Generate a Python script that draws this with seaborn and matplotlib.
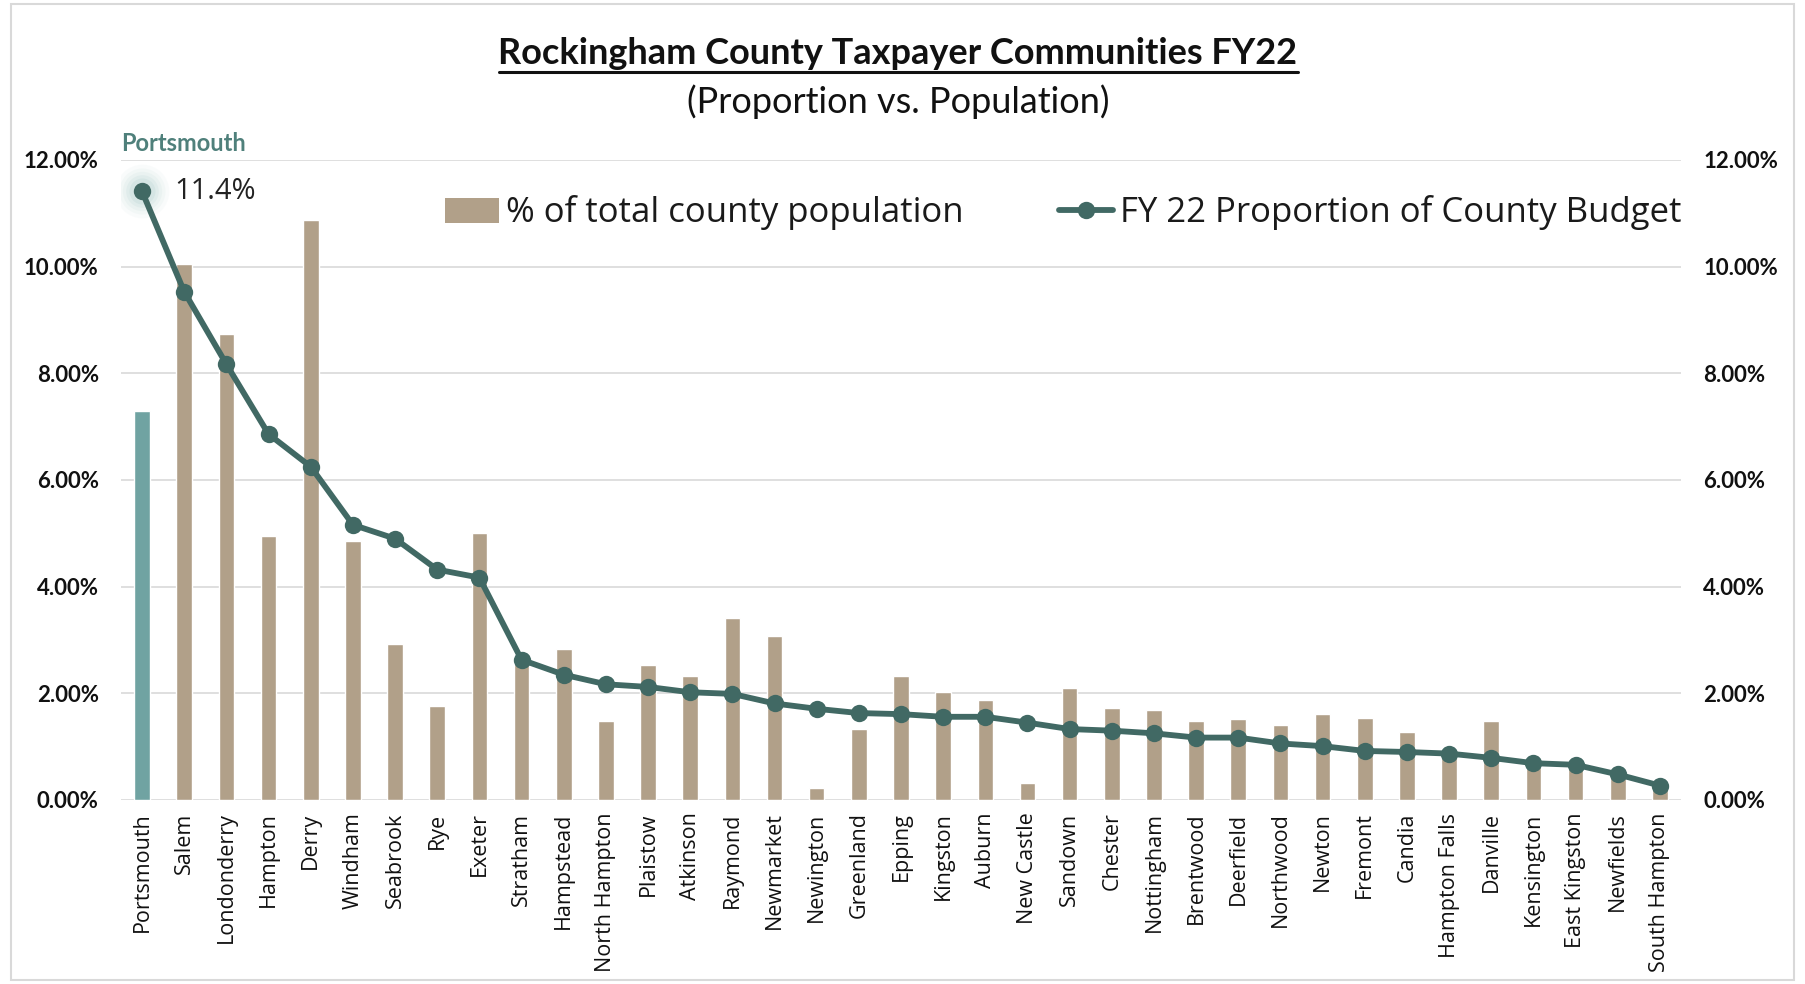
import numpy as np
import pandas as pd
import matplotlib
matplotlib.use("Agg")
import matplotlib.pyplot as plt
import seaborn as sns
from matplotlib.lines import Line2D
from matplotlib.patches import Patch, Rectangle
from matplotlib.ticker import FuncFormatter

towns = ["Portsmouth", "Salem", "Londonderry", "Hampton", "Derry", "Windham", "Seabrook",
         "Rye", "Exeter", "Stratham", "Hampstead", "North Hampton", "Plaistow", "Atkinson",
         "Raymond", "Newmarket", "Newington", "Greenland", "Epping", "Kingston", "Auburn",
         "New Castle", "Sandown", "Chester", "Nottingham", "Brentwood", "Deerfield",
         "Northwood", "Newton", "Fremont", "Candia", "Hampton Falls", "Danville",
         "Kensington", "East Kingston", "Newfields", "South Hampton"]

population_pct = [7.30, 10.05, 8.73, 4.95, 10.87, 4.85, 2.92, 1.77, 5.00, 2.55, 2.83, 1.49,
                  2.53, 2.33, 3.42, 3.08, 0.23, 1.34, 2.33, 2.03, 1.88, 0.31, 2.10, 1.72,
                  1.68, 1.49, 1.52, 1.41, 1.62, 1.54, 1.28, 0.85, 1.49, 0.70, 0.64, 0.45, 0.20]

budget_pct = [11.41, 9.53, 8.17, 6.86, 6.25, 5.16, 4.90, 4.32, 4.17, 2.63, 2.35, 2.17,
              2.12, 2.02, 1.99, 1.81, 1.71, 1.63, 1.61, 1.56, 1.56, 1.45, 1.33, 1.30,
              1.25, 1.17, 1.17, 1.06, 1.01, 0.92, 0.90, 0.87, 0.79, 0.69, 0.66, 0.48, 0.27]

y_ticks = [0, 2, 4, 6, 8, 10, 12]

title = "Rockingham County Taxpayer Communities FY22"
subtitle = "(Proportion vs. Population)"
bar_label = "% of total county population"
line_label = "FY 22 Proportion of County Budget"

TAN = "#b1a089"
TEAL_BAR = "#70a3a2"
LINE = "#416964"
LABEL_TEAL = "#4f807b"
TXT = "#111111"

sns.set_theme(style="white")
plt.rcParams['font.family'] = ['Open Sans', 'DejaVu Sans']

W, H = 1805, 984
fig = plt.figure(figsize=(W / 100, H / 100), dpi=100)
ax = fig.add_axes([121 / W, 1 - 800 / H, (1681 - 121) / W, (800 - 160) / H])

df = pd.DataFrame({"town": towns, "pop": population_pct, "budget": budget_pct})
palette = {t: (TEAL_BAR if i == 0 else TAN) for i, t in enumerate(towns)}
sns.barplot(data=df, x="town", y="pop", hue="town", palette=palette, width=0.37,
            saturation=1, legend=False, ax=ax, zorder=2)

ax2 = ax.twinx()
xs = np.arange(len(towns))
# glow around first point
for s, a in [(1500, 0.05), (1100, 0.07), (800, 0.09), (550, 0.12), (350, 0.16)]:
    ax2.scatter([xs[0]], [budget_pct[0]], s=s, color="#9cc4c1", alpha=a, lw=0, zorder=1)
sns.lineplot(x=xs, y=budget_pct, ax=ax2, color=LINE, lw=4.2, marker="o",
             markersize=12.5, markeredgewidth=0, zorder=3)

for a in (ax, ax2):
    a.set_ylim(0, 12)
    a.set_xlim(-0.5, len(towns) - 0.5)
    a.set_yticks(y_ticks)
    a.yaxis.set_major_formatter(FuncFormatter(lambda v, p: f"{v:.2f}%"))
    a.set_ylabel("")
    a.set_xlabel("")
    for sp in a.spines.values():
        sp.set_visible(False)

ax.grid(axis="y", color="#d9d9d9", lw=1.2, zorder=0)
ax.grid(axis="x", visible=False)
ax2.grid(False)
ax.set_axisbelow(True)

for a in (ax, ax2):
    a.tick_params(axis="y", length=0, pad=16, labelsize=16, labelcolor=TXT)
    for lab in a.get_yticklabels():
        lab.set_fontweight("bold")
        lab.set_family(["Lato", "DejaVu Sans"])

ax.set_xticks(xs)
ax.set_xticklabels(towns, rotation=90, fontsize=15.5, color=TXT)
ax.tick_params(axis="x", length=0, pad=9)

# annotations
ax2.text(-0.5, 12.3, "Portsmouth", color=LABEL_TEAL, fontsize=17, fontweight="bold",
         ha="left", va="center", family=["Lato", "DejaVu Sans"], clip_on=False)
ax2.text(0.76, budget_pct[0], f"{budget_pct[0]:.1f}%", color="#222222", fontsize=21,
         ha="left", va="center")

# legend
handles = [Patch(facecolor=TAN, edgecolor="none", label=bar_label),
           Line2D([0], [0], color=LINE, lw=4.2, marker="o", markersize=12.5,
                  markeredgewidth=0, label=line_label)]
fig.legend(handles=handles, loc="center", bbox_to_anchor=(0.589, 1 - 213 / H), ncol=2,
           frameon=False, fontsize=25, handlelength=1.55, columnspacing=2.75,
           handletextpad=0.2, labelcolor="#1a1a1a")

# titles
t = fig.text(898 / W, 1 - 54 / H, title, ha="center", va="center", fontsize=26,
             fontweight="bold", family=["Lato", "DejaVu Sans"], color=TXT)
fig.text(898 / W, 1 - 102 / H, subtitle, ha="center", va="center", fontsize=26,
         family=["Lato", "DejaVu Sans"], color=TXT)

fig.canvas.draw()
bb = t.get_window_extent(renderer=fig.canvas.get_renderer())
yline = (bb.y0 - 1) / H
fig.add_artist(Line2D([bb.x0 / W, bb.x1 / W], [yline, yline], transform=fig.transFigure,
                      color=TXT, lw=2.2))

fig.add_artist(Rectangle((0.006, 0.004), 0.988, 0.992, transform=fig.transFigure,
                         fill=False, ec="#d9d9d9", lw=1.5))

fig.savefig("out.png", dpi=100, facecolor="white")
